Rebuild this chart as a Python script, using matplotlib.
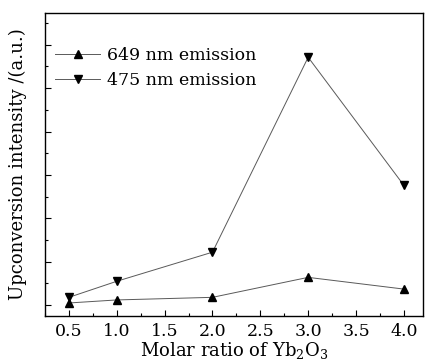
import numpy as np
import matplotlib.pyplot as plt
from matplotlib.ticker import MultipleLocator, NullFormatter

plt.rcParams['font.family'] = 'serif'
plt.rcParams['font.serif'] = ['DejaVu Serif', 'Liberation Serif']
plt.rcParams['mathtext.fontset'] = 'dejavuserif'

ratio = [0.5, 1.0, 2.0, 3.0, 4.0]
em649 = [0.05, 0.12, 0.18, 0.64, 0.37]
em475 = [0.18, 0.55, 1.22, 5.71, 2.76]

fig = plt.figure(figsize=(4.27, 3.63), dpi=100)
ax = fig.add_axes([45/427, 1 - 316/363, 378/427, 303/363])

ax.plot(ratio, em649, color='0.35', lw=0.7, marker='^', ms=6,
        mfc='black', mec='black', label='649 nm emission')
ax.plot(ratio, em475, color='0.35', lw=0.7, marker='v', ms=6,
        mfc='black', mec='black', label='475 nm emission')

ax.set_xlim(0.25, 4.2)
ax.set_ylim(-0.25, 6.73)
ax.xaxis.set_major_locator(MultipleLocator(0.5))
ax.xaxis.set_minor_locator(MultipleLocator(0.25))
ax.yaxis.set_major_locator(MultipleLocator(1))
ax.yaxis.set_minor_locator(MultipleLocator(0.5))
ax.yaxis.set_major_formatter(NullFormatter())
ax.tick_params(which='both', direction='in', top=False, right=False)
ax.tick_params(which='major', length=4, width=0.8, labelsize=12.5, pad=5)
ax.tick_params(which='minor', length=2, width=0.8)
for s in ax.spines.values():
    s.set_linewidth(1.0)

ax.set_xlabel('Molar ratio of Yb$_2$O$_3$', fontsize=13, labelpad=0)
ax.set_ylabel('Upconversion intensity /(a.u.)', fontsize=13, labelpad=8)

ax.legend(loc='upper left', frameon=False, fontsize=12.5, handlelength=2.6,
          handletextpad=0.4, labelspacing=0.45, bbox_to_anchor=(-0.015, 0.94))

fig.savefig('out.png', dpi=100)
